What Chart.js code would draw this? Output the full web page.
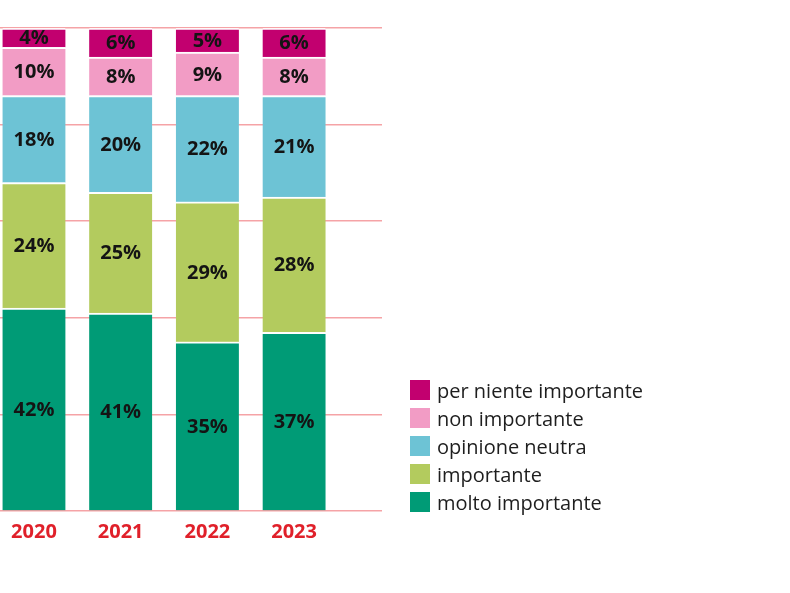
<!DOCTYPE html>
<html lang="it">
<head>
  <meta charset="UTF-8">
  <title>Importanza - 2020-2023</title>
  <script src="https://cdn.jsdelivr.net/npm/chart.js"></script>
  <style>
    body { margin: 0; background: #fff; font-family: "Open Sans", Arial, sans-serif; }
    #wrap { position: relative; width: 790px; height: 593px; }
    #legend {
      position: absolute;
      left: 410px;
      top: 376px;
      font-size: 20px;
      color: #1e1e1e;
    }
    .item { display: flex; align-items: center; height: 28px; }
    .box { width: 20px; height: 20px; margin-right: 7px; }
  </style>
</head>
<body>
  <div id="wrap">
    <canvas id="myChart" width="790" height="593"></canvas>
    <div id="legend"></div>
  </div>

  <script>
    // categories
    const years = ['2020', '2021', '2022', '2023'];

    // series values (% per year)
    const moltoImportante = [42, 41, 35, 37];
    const importante = [26, 25, 29, 28];       // 2020 bar is drawn ~26% tall
    const importanteLabels = [24, 25, 29, 28]; // printed on the bars
    const opinioneNeutra = [18, 20, 22, 21];
    const nonImportante = [10, 8, 9, 8];
    const perNienteImportante = [4, 6, 5, 6];

    // y grid ticks
    const yTicks = [0, 20, 40, 60, 80, 100];

    const toPoints = vals => vals.map((v, i) => ({ x: i, y: v }));

    const datasets = [
      { label: 'molto importante', data: toPoints(moltoImportante), backgroundColor: '#009b76' },
      { label: 'importante', data: toPoints(importante), backgroundColor: '#b3cb5e', printed: importanteLabels },
      { label: 'opinione neutra', data: toPoints(opinioneNeutra), backgroundColor: '#6dc3d5' },
      { label: 'non importante', data: toPoints(nonImportante), backgroundColor: '#f29cc5' },
      { label: 'per niente importante', data: toPoints(perNienteImportante), backgroundColor: '#c2006f' }
    ].map(ds => Object.assign(ds, {
      barThickness: 63,
      borderColor: 'rgba(255,255,255,0.85)',
      borderWidth: { top: 2, bottom: 0, left: 0, right: 0 },
      borderSkipped: false
    }));

    // percentage labels in the middle of each segment
    const segmentLabels = {
      id: 'segmentLabels',
      afterDatasetsDraw(chart) {
        const ctx = chart.ctx;
        ctx.save();
        ctx.font = 'bold 20px "Open Sans", Arial, sans-serif';
        ctx.fillStyle = '#141414';
        ctx.textAlign = 'center';
        ctx.textBaseline = 'middle';
        chart.data.datasets.forEach((ds, di) => {
          chart.getDatasetMeta(di).data.forEach((bar, i) => {
            const v = ds.printed ? ds.printed[i] : ds.data[i].y;
            ctx.fillText(v + '%', bar.x, (bar.y + bar.base) / 2 + 1);
          });
        });
        ctx.restore();
      }
    };

    const ctx = document.getElementById('myChart').getContext('2d');
    const myChart = new Chart(ctx, {
      type: 'bar',
      data: { datasets: datasets },
      options: {
        responsive: false,
        animation: false,
        layout: { padding: { top: 28, left: 0, right: 408, bottom: 0 } },
        plugins: {
          legend: { display: false },
          tooltip: { enabled: false }
        },
        scales: {
          x: {
            type: 'linear',
            stacked: true,
            offset: false,
            min: -0.392,
            max: 4.014,
            grid: { display: false },
            border: { display: false },
            afterFit: s => { s.height = 82; },
            ticks: {
              stepSize: 1,
              includeBounds: false,
              autoSkip: false,
              maxRotation: 0,
              padding: 1,
              color: '#e0202a',
              font: { family: '"Open Sans", Arial, sans-serif', size: 20, weight: 'bold' },
              callback: v => (Number.isInteger(v) && years[v]) ? years[v] : ''
            }
          },
          y: {
            stacked: true,
            min: 0,
            max: 100,
            afterFit: s => { s.width = 0; },
            afterBuildTicks: s => { s.ticks = yTicks.map(v => ({ value: v })); },
            border: { display: false },
            grid: { color: '#f5a3a6', lineWidth: 1.5, drawTicks: false },
            ticks: { display: false }
          }
        }
      },
      plugins: [segmentLabels]
    });

    // legend, top item = last dataset
    const legendEl = document.getElementById('legend');
    datasets.slice().reverse().forEach(ds => {
      const row = document.createElement('div');
      row.className = 'item';
      row.innerHTML = '<span class="box" style="background:' + ds.backgroundColor + '"></span><span>' + ds.label + '</span>';
      legendEl.appendChild(row);
    });
  </script>
</body>
</html>
